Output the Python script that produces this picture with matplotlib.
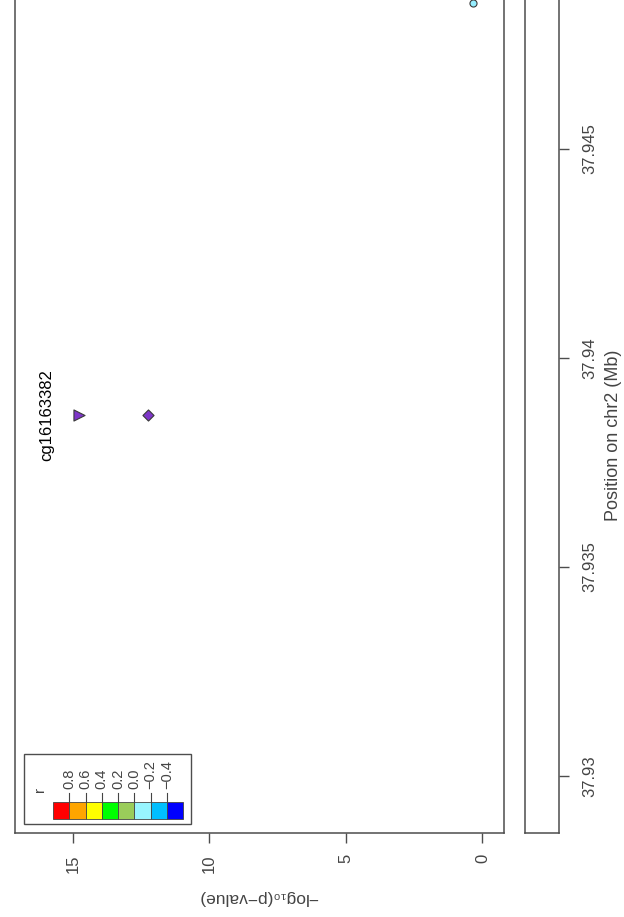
import matplotlib
matplotlib.use("Agg")
import matplotlib.pyplot as plt
from matplotlib.patches import Rectangle

plt.rcParams['font.family'] = ['Liberation Sans', 'DejaVu Sans']

# ---- data ----
probe_names = ["cg16163382", "", ""]
positions_mb = [37.93864, 37.93864, 37.94849]
neg_log10_p = [14.78, 12.25, 0.35]
point_markers = [">", "D", "o"]
point_colors = ["#7E35C9", "#7E35C9", "#96EEFF"]
point_sizes = [64, 32, 26]

pos_ticks = [37.93, 37.935, 37.94, 37.945]
pos_tick_labels = ["37.93", "37.935", "37.94", "37.945"]
p_ticks = [0, 5, 10, 15]
p_tick_labels = ["0", "5", "10", "15"]

legend_colors = ["#FF0000", "#FFA500", "#FFFF00", "#00FF00", "#9ACD5A",
                 "#98F5FF", "#00BFFF", "#0000FF"]
legend_labels = ["0.8", "0.6", "0.4", "0.2", "0.0", "\u22120.2", "\u22120.4"]

W, H = 624, 917
fig = plt.figure(figsize=(W / 100, H / 100), dpi=100)

edge = "#4d4d4d"
tickc = "#444444"

def fx(px):
    return px / W

def fy(py):
    return (H - py) / H

bottom_px, top_px = 833, -39
ax = fig.add_axes([fx(15.5), fy(bottom_px), fx(504) - fx(15.5), fy(top_px) - fy(bottom_px)])
ax.set_xlim(17.106, -0.788)
ax.set_ylim(37.928636, 37.949498)
for s in ax.spines.values():
    s.set_color(edge)
    s.set_linewidth(1.1)
ax.set_yticks([])
ax.set_xticks(p_ticks)
ax.set_xticklabels(p_tick_labels)
ax.tick_params(axis='x', length=7.2, width=1, color=edge, labelrotation=90,
               labelsize=12, labelcolor=tickc, pad=8.0)

for x, y, m, c, s in zip(neg_log10_p, positions_mb, point_markers, point_colors, point_sizes):
    ax.scatter([x], [y], marker=m, s=s, c=c, edgecolors="#3a3a3a", linewidths=0.8, zorder=3)

for name, x, y in zip(probe_names, neg_log10_p, positions_mb):
    if name:
        ax.text(15.95, y, name, rotation=90, ha='center', va='center',
                fontsize=12, color='black')

# gene track panel
ax2 = fig.add_axes([fx(525), fy(bottom_px), fx(559) - fx(525), fy(top_px) - fy(bottom_px)])
ax2.set_ylim(ax.get_ylim())
ax2.set_xticks([])
for s in ax2.spines.values():
    s.set_color(edge)
    s.set_linewidth(1.1)
ax2.yaxis.tick_right()
ax2.set_yticks(pos_ticks)
ax2.set_yticklabels(pos_tick_labels)
ax2.tick_params(axis='y', length=7.2, width=1, color=edge, labelrotation=90,
                labelsize=12, labelcolor=tickc, pad=9.5)
for lab in ax2.get_yticklabels():
    lab.set_va('center')

fig.text(fx(613), fy(435), "Position on chr2 (Mb)", rotation=90, ha='center', va='center',
         fontsize=13, color=tickc)
fig.text(fx(258), fy(897), "\u2212log\u2081\u2080(p\u2212value)", rotation=180, ha='center',
         va='center', fontsize=12.5, color=tickc)

# legend overlay (pixel coordinates)
ov = fig.add_axes([0, 0, 1, 1])
ov.set_xlim(0, W)
ov.set_ylim(H, 0)
ov.axis('off')
ov.add_patch(Rectangle((24, 754), 167, 70, facecolor='white', edgecolor=edge, lw=1.0))
sq_w = 16.25
x0 = 53
for i, c in enumerate(legend_colors):
    ov.add_patch(Rectangle((x0 + i * sq_w, 802), sq_w, 17, facecolor=c,
                           edgecolor='#444444', lw=0.6))
for k, lab in enumerate(legend_labels, start=1):
    xb = x0 + k * sq_w
    ov.plot([xb, xb], [793, 802], color='#444444', lw=0.8)
    ov.text(xb, 789, lab, rotation=90, ha='center', va='bottom', fontsize=10.5, color=tickc)
ov.text(40, 789, "r", rotation=90, ha='center', va='center', fontsize=11, color=tickc)

fig.savefig("out.png", dpi=100)
